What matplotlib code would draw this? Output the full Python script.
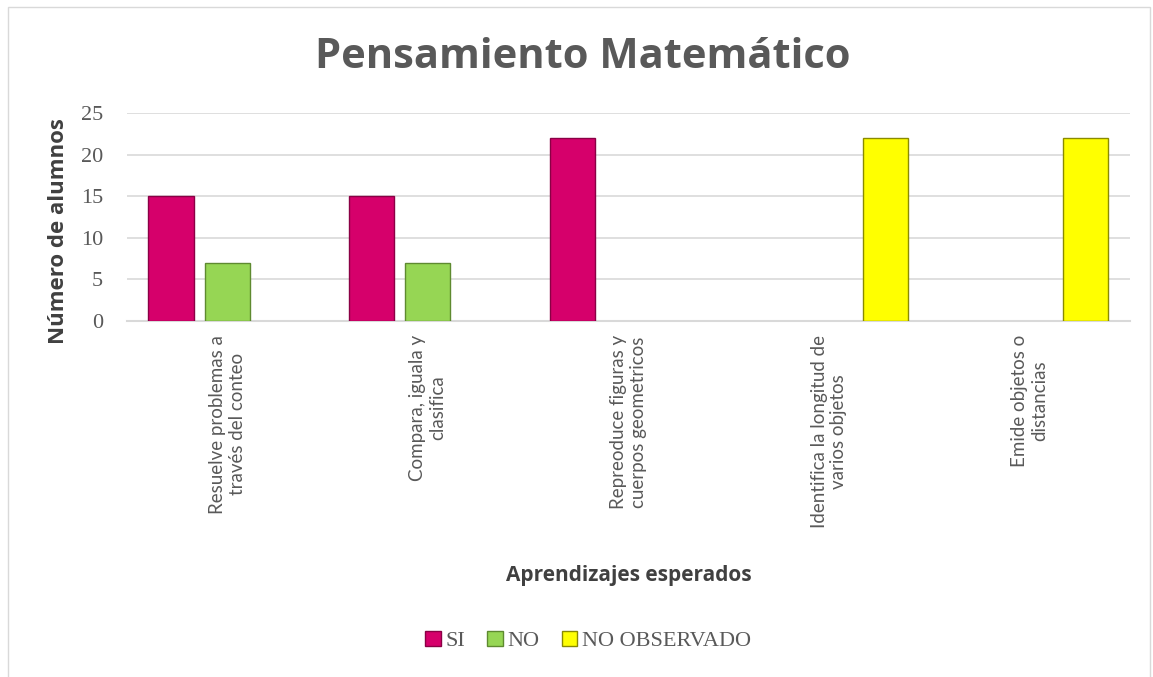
import matplotlib
matplotlib.use('Agg')
import matplotlib.pyplot as plt
import numpy as np
from matplotlib.patches import Rectangle

# data
categorias = ['Resuelve problemas a\ntravés del conteo',
              'Compara, iguala y\nclasifica',
              'Repreoduce figuras y\ncuerpos geometricos',
              'Identifica la longitud de\nvarios objetos',
              'Emide objetos o\ndistancias']
si = [15, 15, 22, 0, 0]
no = [7, 7, 0, 0, 0]
no_observado = [0, 0, 0, 22, 22]

series = [('SI', si, '#D6006B', '#8a0045'),
          ('NO', no, '#96D654', '#5e8a30'),
          ('NO OBSERVADO', no_observado, '#FFFF00', '#8a8a00')]

fig = plt.figure(figsize=(11.53, 6.77), dpi=100)
ax = fig.add_axes([0.110, 0.526, 0.870, 0.307])

#chart border
fig.patches.append(Rectangle((0.007, -0.01), 0.990, 0.999, transform=fig.transFigure,
                             fill=False, edgecolor='#d9d9d9', linewidth=1))

x = np.arange(len(categorias))
width = 0.225
offsets = [-0.28, 0.0, 0.28]
for (nombre, vals, color, borde), off in zip(series, offsets):
    vals = np.array(vals)
    mask = vals > 0
    ax.bar(x[mask] + off, vals[mask], width, color=color, edgecolor=borde,
           linewidth=1, label=nombre, zorder=3)

ax.set_xlim(-0.5, len(categorias) - 0.5)
ax.set_ylim(0, 25)
ax.set_yticks([0, 5, 10, 15, 20, 25])
ax.yaxis.grid(True, color='#d9d9d9', linewidth=1.2, zorder=0)
ax.set_axisbelow(True)
for s in ['top', 'right', 'left']:
    ax.spines[s].set_visible(False)
ax.spines['bottom'].set_color('#d9d9d9')
ax.spines['bottom'].set_linewidth(1.5)
ax.tick_params(axis='both', length=0)
for lab in ax.get_yticklabels():
    lab.set_fontfamily('Liberation Serif')
    lab.set_fontsize(16)
    lab.set_color('#595959')
ax.tick_params(axis='y', pad=17)

ax.set_xticks(x)
ax.set_xticklabels(categorias, rotation=90, fontsize=13.5, color='#595959',
                   family='Lato', ha='center', va='top',
                   multialignment='center')
ax.tick_params(axis='x', pad=10)

ax.set_ylabel('Número de alumnos', fontsize=16, fontweight='bold', color='#404040',
              family='Open Sans')
ax.yaxis.set_label_coords(-0.058, 0.43)

fig.text(0.505, 0.915, 'Pensamiento Matemático', ha='center', va='center',
         fontsize=30, fontweight='bold', color='#595959', family='Open Sans')
fig.text(0.545, 0.150, 'Aprendizajes esperados', ha='center', va='center',
         fontsize=15, fontweight='bold', color='#404040', family='Open Sans')

handles, labels = ax.get_legend_handles_labels()
fig.legend(handles, labels, loc='center', bbox_to_anchor=(0.51, 0.053), ncol=3,
           frameon=False, prop={'family': 'Liberation Serif', 'size': 16},
           labelcolor='#595959', handlelength=0.7, handleheight=0.7,
           handletextpad=0.2, columnspacing=1.0)

fig.savefig('out.png', dpi=100)
